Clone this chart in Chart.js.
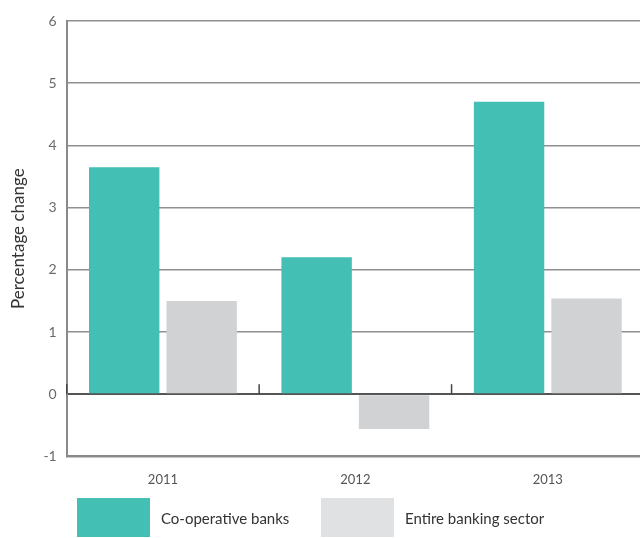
<!DOCTYPE html>
<html>
<head>
<meta charset="utf-8">
<script src="https://cdn.jsdelivr.net/npm/chart.js@4/dist/chart.umd.min.js"></script>
<style>
  html, body { margin: 0; padding: 0; background: #fff; overflow: hidden; }
  /* the plot runs a few pixels past the right edge of the page */
  #wrap { width: 644px; height: 504px; position: relative; }
  #legend { position: absolute; left: 0; top: 498px; width: 640px; height: 39px; font-family: 'Lato', sans-serif; font-size: 15px; color: #333; }
  #legend .item { position: absolute; top: 0; display: flex; align-items: center; }
  #legend .box { width: 73px; height: 39px; }
  #legend .label { margin-left: 11px; }
</style>
</head>
<body>
<div id="wrap"><canvas id="growthChart"></canvas></div>
<div id="legend"></div>
<script>
// Growth data
const years = ['2011', '2012', '2013'];
const coopBanks = [3.65, 2.2, 4.7];
const allBanks = [1.5, -0.56, 1.54];
const yTicks = [-1, 0, 1, 2, 3, 4, 5, 6];

const teal = '#44bfb3';
const grey = '#d1d2d4';
const legendGrey = '#e0e1e3';

// small upward ticks on the zero line between the year groups
const zeroTicks = {
    id: 'zeroTicks',
    afterDatasetsDraw(chart) {
        const x = chart.scales.x;
        const y0 = chart.scales.y.getPixelForValue(0);
        const c = chart.ctx;
        c.save();
        c.strokeStyle = '#444';
        c.lineWidth = 1.5;
        for (let i = 0; i < years.length; i++) {
            const px = x.left + i * (x.width / years.length);
            c.beginPath();
            c.moveTo(px, y0);
            c.lineTo(px, y0 - 10);
            c.stroke();
        }
        c.restore();
    }
};

const ctx = document.getElementById('growthChart').getContext('2d');
const growthChart = new Chart(ctx, {
    type: 'bar',
    data: {
        labels: years,
        datasets: [
            {
                label: 'Co-operative banks',
                data: coopBanks,
                backgroundColor: teal,
                borderWidth: 0
            },
            {
                label: 'Entire banking sector',
                data: allBanks,
                backgroundColor: grey,
                borderWidth: 0
            }
        ]
    },
    options: {
        responsive: true,
        maintainAspectRatio: false,
        animation: false,
        layout: { padding: { top: 21, right: 0, left: 4, bottom: 0 } },
        datasets: {
            bar: { categoryPercentage: 0.805, barPercentage: 0.909 }
        },
        scales: {
            x: {
                grid: { display: false, drawTicks: false },
                border: { color: '#8a8a8a', width: 2 },
                ticks: { color: '#555', padding: 16, font: { family: 'Lato', size: 13 } }
            },
            y: {
                min: -1,
                max: 6,
                afterBuildTicks(axis) {
                    axis.ticks = yTicks.map(v => ({ value: v }));
                },
                grid: {
                    drawTicks: false,
                    color: c => c.tick && c.tick.value === 0 ? '#555' : '#8f8f8f',
                    lineWidth: c => c.tick && c.tick.value === 0 ? 2 : 1.5
                },
                border: { color: '#8a8a8a', width: 2 },
                ticks: { color: '#6a6a6a', padding: 10, font: { family: 'Lato', size: 14 } },
                title: {
                    display: true,
                    text: 'Percentage change',
                    color: '#333',
                    padding: { bottom: 5 },
                    font: { family: 'Lato', size: 17 }
                }
            }
        },
        plugins: {
            tooltip: { enabled: false },
            legend: { display: false }
        }
    },
    plugins: [zeroTicks]
});

// legend below the chart
const legendEl = document.getElementById('legend');
const legendColors = [teal, legendGrey];
const legendLeft = [77, 321];
growthChart.data.datasets.forEach((ds, i) => {
    const item = document.createElement('div');
    item.className = 'item';
    item.style.left = legendLeft[i] + 'px';
    item.innerHTML = '<div class="box" style="background:' + legendColors[i] + '"></div><span class="label">' + ds.label + '</span>';
    legendEl.appendChild(item);
});
</script>
</body>
</html>
